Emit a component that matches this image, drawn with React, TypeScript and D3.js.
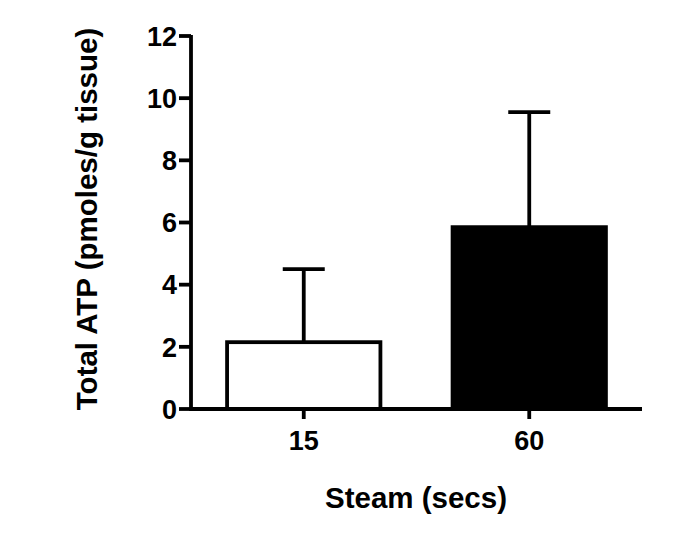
import React from 'react';
import * as d3 from 'd3';

// Total ATP after steaming, mean + upper SD
const categories = ['15', '60'];
const means = [2.15, 5.85];
const errors = [2.35, 3.7];
const fills = ['#ffffff', '#000000'];
const yTicks = [0, 2, 4, 6, 8, 10, 12];

const W = 685;
const H = 534;
const FONT = '"Liberation Sans", Arial, sans-serif';

export default function App() {
  const left = 191;
  const right = 642;
  const top = 36;
  const bottom = 409;

  const x = d3.scalePoint<string>().domain(categories).range([left, right]).padding(0.5);
  const y = d3.scaleLinear().domain([0, 12]).range([bottom, top]);
  const barW = x.step() * 0.68;
  const sw = 3.8;

  return (
    <svg width={W} height={H} style={{ position: 'absolute', left: 0, top: 0, background: '#fff' }}>
      {/* bars */}
      {categories.map((c, i) => {
        const cx = x(c)!;
        const yTop = y(means[i]);
        const yErr = y(means[i] + errors[i]);
        return (
          <g key={c}>
            <line x1={cx} x2={cx} y1={yTop} y2={yErr} stroke="#000" strokeWidth={sw} />
            <line x1={cx - 21} x2={cx + 21} y1={yErr} y2={yErr} stroke="#000" strokeWidth={sw} />
            <rect
              x={cx - barW / 2}
              y={yTop}
              width={barW}
              height={bottom - yTop}
              fill={fills[i]}
              stroke="#000"
              strokeWidth={sw}
            />
          </g>
        );
      })}

      {/* y axis */}
      <line x1={left} x2={left} y1={top - 1} y2={bottom + sw / 2} stroke="#000" strokeWidth={sw} />
      {yTicks.map((t) => (
        <g key={t}>
          <line x1={left - 12} x2={left} y1={y(t)} y2={y(t)} stroke="#000" strokeWidth={sw} />
          <text
            x={left - 14}
            y={y(t)}
            dy="0.36em"
            textAnchor="end"
            fontFamily={FONT}
            fontWeight="bold"
            fontSize={27}
            fill="#000"
          >
            {t}
          </text>
        </g>
      ))}

      {/* x axis */}
      <line x1={left} x2={right} y1={bottom} y2={bottom} stroke="#000" strokeWidth={sw} />
      {categories.map((c) => (
        <g key={c}>
          <line x1={x(c)!} x2={x(c)!} y1={bottom} y2={bottom + 10} stroke="#000" strokeWidth={sw} />
          <text
            x={x(c)!}
            y={450}
            textAnchor="middle"
            fontFamily={FONT}
            fontWeight="bold"
            fontSize={27}
            fill="#000"
          >
            {c}
          </text>
        </g>
      ))}

      {/* titles */}
      <text
        x={416}
        y={508}
        textAnchor="middle"
        fontFamily={FONT}
        fontWeight="bold"
        fontSize={29.5}
        fill="#000"
      >
        Steam (secs)
      </text>
      <text
        transform={`translate(97, 219) rotate(-90)`}
        textAnchor="middle"
        fontFamily={FONT}
        fontWeight="bold"
        fontSize={29.5}
        fill="#000"
      >
        Total ATP (pmoles/g tissue)
      </text>
    </svg>
  );
}
